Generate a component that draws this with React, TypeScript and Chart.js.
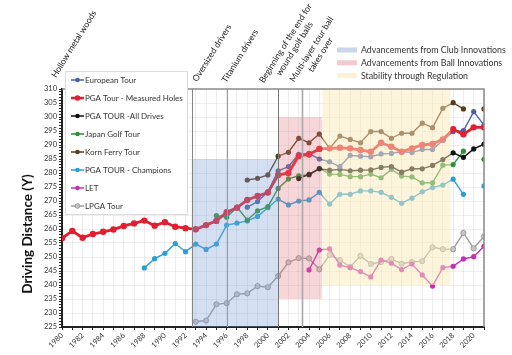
import React, { useEffect, useRef } from 'react';
import { Chart, registerables } from 'chart.js';

Chart.register(...registerables);

const years = [
  1980, 1981, 1982, 1983, 1984, 1985, 1986, 1987, 1988, 1989,
  1990, 1991, 1992, 1993, 1994, 1995, 1996, 1997, 1998, 1999,
  2000, 2001, 2002, 2003, 2004, 2005, 2006, 2007, 2008, 2009,
  2010, 2011, 2012, 2013, 2014, 2015, 2016, 2017, 2018, 2019,
  2020, 2021,
];

const european = [
  null, null, null, null, null, null, null, null, null, null,
  null, null, null, null, null, null, null, null, 267.8, 269.8,
  273.3, 280.8, 282.3, 286.7, 287.0, 285.0, 284.0, 282.3, 286.3, 286.0,
  285.8, 286.8, 287.0, 287.6, 287.3, 288.4, 288.4, 291.6, 294.8, 295.1,
  301.9, 297.1,
];

const pgaMeasured = [
  256.7, 259.3, 256.9, 258.2, 259.0, 259.8, 261.1, 262.0, 263.0, 261.2,
  262.4, 260.8, 260.3, 259.9, 261.4, 262.9, 266.0, 267.6, 270.4, 271.8,
  273.0, 279.3, 280.0, 286.1, 286.6, 288.6, 288.8, 289.0, 288.8, 288.2,
  287.6, 290.8, 289.4, 287.6, 288.8, 290.0, 290.4, 292.0, 295.6, 293.8,
  296.3, 296.3,
];

const pgaAllDrives = [
  null, null, null, null, null, null, null, null, null, null,
  null, null, null, null, null, null, null, null, null, null,
  null, null, null, 278.0, 279.5, 281.5, 281.0, 281.3, 280.8, 281.0,
  281.1, 282.0, 282.3, 280.3, 281.5, 281.5, 282.7, 284.8, 287.2, 285.6,
  288.6, 290.3,
];

const japan = [
  null, null, null, null, null, null, null, null, null, null,
  null, null, null, null, null, 264.8, 264.2, 267.8, 263.2, 266.5,
  268.0, 274.5, 277.9, 279.0, 279.3, 281.7, 279.6, 279.5, 278.7, 278.7,
  279.6, 278.3, 281.3, 278.9, 278.6, 276.5, 276.5, 282.8, 283.0, 287.8,
  null, 284.9,
];

const kornFerry = [
  null, null, null, null, null, null, null, null, null, null,
  null, null, null, null, null, null, null, null, 277.5, 278.1,
  279.3, 286.0, 287.4, 292.4, 290.8, 293.9, 288.8, 293.2, 292.0, 290.8,
  294.8, 294.8, 292.4, 294.2, 294.2, 297.8, 296.2, 303.1, 305.1, 302.9,
  null, 302.9,
];

const champions = [
  null, null, null, null, null, null, null, null, 246.1, 249.4,
  251.3, 254.8, 251.9, 254.6, 252.7, 254.6, 261.4, 262.1, 262.9, 264.5,
  267.6, 270.7, 268.6, 270.0, 270.4, 273.1, 268.9, 272.4, 272.4, 273.6,
  273.6, 273.1, 271.3, 269.2, 271.0, 273.3, 274.8, 275.7, 277.8, 272.4,
  null, 275.4,
];

const letTour = [
  null, null, null, null, null, null, null, null, null, null,
  null, null, null, null, null, null, null, null, null, null,
  null, null, null, null, 245.4, 252.5, 252.9, 247.1, 246.2, 244.8,
  242.9, 248.9, 247.8, 245.5, 247.5, 243.6, 239.6, 246.2, 246.7, 249.3,
  250.1, 253.8,
];

const lpga = [
  null, null, null, null, null, null, null, null, null, null,
  null, null, null, 226.9, 227.3, 233.1, 233.5, 236.7, 237.0, 239.6,
  239.2, 243.2, 248.1, 249.6, 249.5, 245.6, 250.7, 248.9, 246.5, 250.4,
  247.5, 248.2, 249.3, 247.6, 248.2, 248.5, 253.5, 252.8, 252.8, 258.6,
  253.1, 257.3,
];

const seriesLabels = [
  'European Tour',
  'PGA Tour - Measured Holes',
  'PGA TOUR -All Drives',
  'Japan Golf Tour',
  'Korn Ferry Tour',
  'PGA TOUR - Champions',
  'LET',
  'LPGA Tour',
];

const regionLabels = [
  'Advancements from Club Innovations',
  'Advancements from Ball Innovations',
  'Stability through Regulation',
];
const regionStartYears = [1992.6, 2001.0, 2005.3];
const regionEndYears = [2001.0, 2005.25, 2017.75];
const regionTopValues = [285, 300, 310];
const regionBottomValues = [225, 235, 240];

const eventLabels = [
  ['Hollow metal woods'],
  ['Oversized drivers'],
  ['Titanium drivers'],
  ['Beginning of the end for', 'wound golf balls'],
  ['Multi-layer tour ball', 'takes over'],
];
const eventYears = [1980, 1992.6, 1996, 2001, 2003.3];

const yTicksMin = 225;
const yTicksMax = 310;
const xMin = 1980;
const xMax = 2021;

// ---- styling (kept separate from data) ----
const seriesColors = ['#4c62a8', '#e11f30', '#111111', '#2f8f3a', '#5a3a1c', '#2a9fd6', '#c62fb0', '#9c9c9c'];
const seriesFill = ['#4c62a8', '#e11f30', '#111111', '#2f8f3a', '#5a3a1c', '#2a9fd6', '#c62fb0', '#c6c6c6'];
const regionOverlay = ['rgba(120,160,212,0.32)', 'rgba(228,118,130,0.30)', 'rgba(252,234,186,0.5)'];
const regionSwatch = ['#c9d6eb', '#f2c9ce', '#fcf1d6'];
const eventLineColor = ['rgba(0,0,0,0)', '#858585', '#9a9a9a', '#777777', '#a8a8a8'];
const eventLineWidth = [0, 1, 1, 1, 1.6];
// text block centers (px) for the rotated annotations
const eventTextCenter = [
  [74, 44],
  [212, 53],
  [240, 56],
  [290, 46],
  [316, 52],
];

const FONT = 'Lato, "Open Sans", sans-serif';

const annotationPlugin = {
  id: 'golfAnnotations',
  afterDatasetsDraw(chart: any) {
    const { ctx, chartArea, scales } = chart;
    const x = scales.x;
    const y = scales.y;
    ctx.save();
    for (let i = 0; i < regionLabels.length; i++) {
      const x0 = x.getPixelForValue(regionStartYears[i]);
      const x1 = x.getPixelForValue(regionEndYears[i]);
      const y0 = y.getPixelForValue(regionTopValues[i]);
      const y1 = y.getPixelForValue(regionBottomValues[i]);
      ctx.fillStyle = regionOverlay[i];
      ctx.fillRect(x0, y0, x1 - x0, y1 - y0);
    }
    for (let i = 0; i < eventYears.length; i++) {
      if (!eventLineWidth[i]) continue;
      const px = Math.round(x.getPixelForValue(eventYears[i])) + 0.5;
      ctx.strokeStyle = eventLineColor[i];
      ctx.lineWidth = eventLineWidth[i];
      ctx.beginPath();
      ctx.moveTo(px, chartArea.top);
      ctx.lineTo(px, chartArea.bottom);
      ctx.stroke();
    }
    ctx.strokeStyle = '#8a8a8a';
    ctx.lineWidth = 1.5;
    ctx.beginPath();
    ctx.moveTo(chartArea.left, chartArea.top);
    ctx.lineTo(chartArea.right, chartArea.top);
    ctx.lineTo(chartArea.right, chartArea.bottom);
    ctx.stroke();
    ctx.restore();
  },
  afterDraw(chart: any) {
    const { ctx } = chart;
    ctx.save();
    // series legend box
    ctx.fillStyle = '#ffffff';
    ctx.fillRect(65, 71, 122, 143);
    ctx.strokeStyle = '#dcdcdc';
    ctx.lineWidth = 1;
    ctx.strokeRect(65.5, 71.5, 122, 143);
    ctx.font = `8px ${FONT}`;
    ctx.textBaseline = 'middle';
    ctx.textAlign = 'left';
    for (let i = 0; i < seriesLabels.length; i++) {
      const cy = 80 + i * 18;
      ctx.strokeStyle = seriesColors[i];
      ctx.lineWidth = i === 1 ? 2.5 : 1.5;
      ctx.beginPath();
      ctx.moveTo(71, cy);
      ctx.lineTo(84, cy);
      ctx.stroke();
      ctx.fillStyle = seriesFill[i];
      ctx.beginPath();
      ctx.arc(77.5, cy, i === 1 ? 2.8 : 2.3, 0, Math.PI * 2);
      ctx.fill();
      if (i === 7) {
        ctx.strokeStyle = seriesColors[i];
        ctx.lineWidth = 1;
        ctx.stroke();
      }
      ctx.fillStyle = '#333333';
      ctx.fillText(seriesLabels[i], 85, cy + 0.5);
    }
    // region legend
    ctx.font = `8.8px ${FONT}`;
    for (let i = 0; i < regionLabels.length; i++) {
      const cy = 50 + i * 12.8;
      ctx.fillStyle = regionSwatch[i];
      ctx.fillRect(337, cy - 2.5, 20, 5);
      ctx.fillStyle = '#333333';
      ctx.fillText(regionLabels[i], 361, cy + 0.5);
    }
    // rotated event annotations
    ctx.font = `8.6px ${FONT}`;
    ctx.textAlign = 'center';
    ctx.textBaseline = 'middle';
    ctx.fillStyle = '#222222';
    for (let i = 0; i < eventLabels.length; i++) {
      const [cx, cy] = eventTextCenter[i];
      const lines = eventLabels[i];
      ctx.save();
      ctx.translate(cx, cy);
      ctx.rotate((-58 * Math.PI) / 180);
      for (let j = 0; j < lines.length; j++) {
        ctx.fillText(lines[j], 0, (j - (lines.length - 1) / 2) * 10.5);
      }
      ctx.restore();
    }
    // y axis title
    ctx.save();
    ctx.translate(28, 234);
    ctx.rotate(-Math.PI / 2);
    ctx.font = `bold 13.5px ${FONT}`;
    ctx.fillStyle = '#111111';
    ctx.textAlign = 'center';
    ctx.textBaseline = 'middle';
    ctx.fillText('Driving Distance (Y)', 0, 0);
    ctx.restore();
    ctx.restore();
  },
};

function makeDataset(i: number, values: (number | null)[]) {
  const isMain = i === 1;
  return {
    label: seriesLabels[i],
    data: years.map((yr, k) => ({ x: yr, y: values[k] })),
    borderColor: seriesColors[i],
    backgroundColor: seriesFill[i],
    pointBackgroundColor: seriesFill[i],
    pointBorderColor: seriesColors[i],
    pointBorderWidth: i === 7 ? 1 : 0,
    borderWidth: isMain ? 2.8 : 1.4,
    pointRadius: isMain ? 3.2 : 2.6,
    tension: 0,
    spanGaps: false,
    order: isMain ? 0 : 1,
  };
}

export default function App() {
  const ref = useRef<HTMLCanvasElement>(null);
  useEffect(() => {
    const canvas = ref.current;
    if (!canvas) return;
    const chart = new Chart(canvas, {
      type: 'line',
      data: {
        datasets: [
          makeDataset(0, european),
          makeDataset(1, pgaMeasured),
          makeDataset(2, pgaAllDrives),
          makeDataset(3, japan),
          makeDataset(4, kornFerry),
          makeDataset(5, champions),
          makeDataset(6, letTour),
          makeDataset(7, lpga),
        ] as any,
      },
      options: {
        responsive: false,
        animation: false,
        devicePixelRatio: 1,
        layout: { padding: { top: 89, right: 28, left: 0, bottom: 0 } },
        plugins: { legend: { display: false }, tooltip: { enabled: false } },
        scales: {
          x: {
            type: 'linear',
            min: xMin,
            max: xMax,
            afterFit: (s: any) => {
              s.height = 28;
            },
            ticks: {
              stepSize: 1,
              autoSkip: false,
              maxRotation: 45,
              minRotation: 45,
              padding: 1,
              color: '#333',
              font: { family: FONT, size: 7.5 },
              callback: (v: any) => (Number(v) % 2 === 0 ? String(v) : ''),
            },
            grid: { color: 'rgba(0,0,0,0.07)', tickColor: '#222', tickLength: 3, lineWidth: 1 },
            border: { color: '#222', width: 2 },
          },
          y: {
            type: 'linear',
            min: yTicksMin,
            max: yTicksMax,
            afterFit: (s: any) => {
              s.width = 62;
            },
            ticks: {
              stepSize: 1,
              autoSkip: false,
              padding: 2,
              color: '#333',
              font: { family: FONT, size: 7.5 },
              callback: (v: any) => (Number(v) % 5 === 0 ? String(v) : ''),
            },
            grid: {
              color: (c: any) => (c.tick && c.tick.value % 5 === 0 ? 'rgba(0,0,0,0.06)' : 'rgba(0,0,0,0)'),
              tickColor: '#222',
              tickLength: 3,
            },
            border: { color: '#222', width: 2 },
          },
        },
      },
      plugins: [annotationPlugin],
    } as any);
    return () => chart.destroy();
  }, []);
  return (
    <div style={{ position: 'fixed', left: 0, top: 0, width: 512, height: 355, background: '#fff' }}>
      <canvas ref={ref} width={512} height={355} style={{ width: 512, height: 355, display: 'block' }} />
    </div>
  );
}
